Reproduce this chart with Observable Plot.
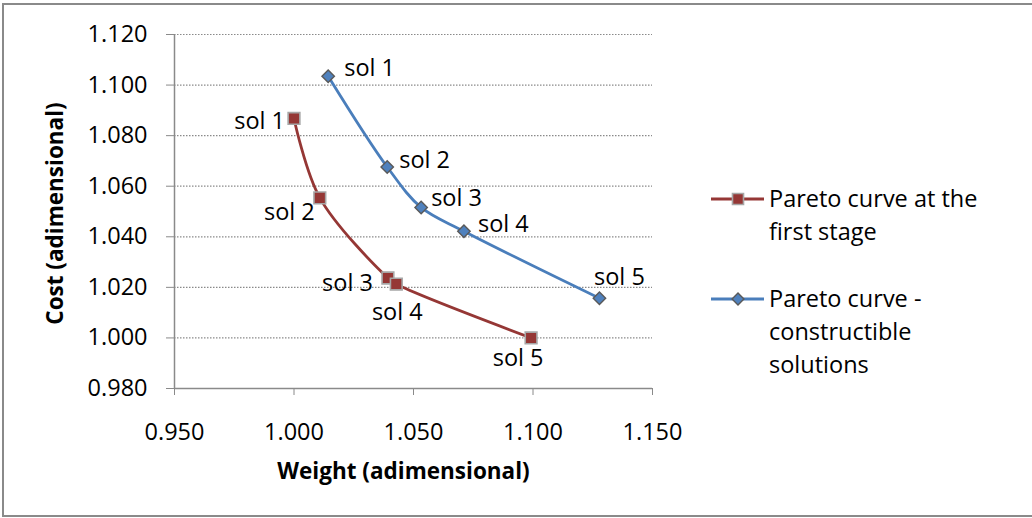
<!DOCTYPE html>
<html><head><meta charset="utf-8">
<script src="https://cdn.jsdelivr.net/npm/d3@7"></script>
<script src="https://cdn.jsdelivr.net/npm/@observablehq/plot@0.6"></script>
<style>
html,body{margin:0;padding:0;background:#fff;overflow:hidden}
#wrap{position:relative;width:1032px;height:518px;font-family:"Open Sans",sans-serif;overflow:hidden}
#wrap svg{position:absolute;left:0;top:0}
#frame{position:absolute;left:2px;top:3px;width:1040px;height:514px;border:2px solid #8a8a8a;box-sizing:border-box;pointer-events:none}
</style></head><body><div id="wrap"><div id="frame"></div></div>
<script>
// ---- data ----
const solutions = ["sol 1", "sol 2", "sol 3", "sol 4", "sol 5"];
const firstStageWeight = [1.0000, 1.0108, 1.0393, 1.0428, 1.0992];
const firstStageCost   = [1.0868, 1.0554, 1.0237, 1.0213, 1.0000];
const constructibleWeight = [1.0143, 1.0390, 1.0532, 1.0711, 1.1278];
const constructibleCost   = [1.1035, 1.0676, 1.0516, 1.0422, 1.0157];
const seriesNames = [["Pareto curve at the", "first stage"], ["Pareto curve -", "constructible", "solutions"]];
const xTicks = [0.95, 1.00, 1.05, 1.10, 1.15];
const yTicks = [0.98, 1.00, 1.02, 1.04, 1.06, 1.08, 1.10, 1.12];
const xTitle = "Weight (adimensional)";
const yTitle = "Cost (adimensional)";

// ---- styles ----
const RED = "#953735", BLUE = "#4a7ebb", BLUEFILL = "#4f81bd", GRID = "#8a8a8a";
const FONT = "'Open Sans', sans-serif", FS = 23.5, TFS = 22.5;

const red = solutions.map((s, i) => ({sol: s, w: firstStageWeight[i], c: firstStageCost[i]}));
const blue = solutions.map((s, i) => ({sol: s, w: constructibleWeight[i], c: constructibleCost[i]}));

const redLabelPos = [
  {dx: -9, dy: 3, anchor: "end"},
  {dx: -5, dy: 15, anchor: "end"},
  {dx: -15, dy: 5, anchor: "end"},
  {dx: 1, dy: 28, anchor: "middle"},
  {dx: -13, dy: 21, anchor: "middle"}
];
const blueLabelPos = [
  {dx: 16, dy: -8, anchor: "start"},
  {dx: 12, dy: -7, anchor: "start"},
  {dx: 10, dy: -9, anchor: "start"},
  {dx: 14, dy: -7, anchor: "start"},
  {dx: 20, dy: -21, anchor: "middle"}
];
const labelMarks = (data, pos) => pos.map((p, i) => Plot.text([data[i]], {
  x: "w", y: "c", text: "sol", dx: p.dx, dy: p.dy, textAnchor: p.anchor,
  fill: "#000", fontSize: FS
}));

const chart = Plot.plot({
  width: 1032, height: 518,
  marginLeft: 174, marginRight: 380, marginTop: 34, marginBottom: 130,
  style: {fontFamily: FONT, fontSize: FS + "px", background: "transparent", color: "#000"},
  x: {domain: [0.95, 1.15]},
  y: {domain: [0.98, 1.12]},
  marks: [
    Plot.ruleY(yTicks.filter(v => v > 0.98), {stroke: GRID, strokeDasharray: "1.5,1.5", strokeWidth: 1.2}),
    Plot.ruleX([0.95], {stroke: GRID, strokeWidth: 1.5}),
    Plot.ruleY([0.98], {stroke: GRID, strokeWidth: 1.5}),
    Plot.axisY({ticks: yTicks, tickFormat: d3.format(".3f"), tickSize: 8, tickPadding: 19,
      stroke: GRID, fill: "#000", fontSize: FS, label: null}),
    Plot.axisX({ticks: xTicks, tickFormat: d3.format(".3f"), tickSize: 7, tickPadding: 28,
      stroke: GRID, fill: "#000", fontSize: FS, label: null}),
    Plot.line(red, {x: "w", y: "c", stroke: RED, strokeWidth: 2.8, curve: "catmull-rom"}),
    Plot.line(blue, {x: "w", y: "c", stroke: BLUE, strokeWidth: 2.8, curve: "catmull-rom"}),
    Plot.dot(red, {x: "w", y: "c", symbol: "square", r: 6.6, fill: RED, stroke: "#a6a6a6", strokeWidth: 1.6}),
    Plot.dot(blue, {x: "w", y: "c", symbol: "diamond2", r: 5.6, fill: BLUEFILL, stroke: "#595959", strokeWidth: 1.4}),
    ...labelMarks(red, redLabelPos),
    ...labelMarks(blue, blueLabelPos),
    Plot.text([yTitle], {frameAnchor: "left", textAnchor: "middle", rotate: -90, dx: -119, dy: 2, fontWeight: "bold", fontSize: TFS, fill: "#000"}),
    Plot.text([xTitle], {frameAnchor: "bottom", dx: -10, dy: 90, fontWeight: "bold", fontSize: TFS, fill: "#000"})
  ]
});
const wrap = document.getElementById("wrap");
wrap.insertBefore(chart, wrap.firstChild);

// ---- legend ----
const leg = d3.select(wrap).append("svg").attr("width", 1032).attr("height", 518)
  .style("font-family", FONT).style("font-size", FS + "px");
const entries = [
  {names: seriesNames[0], y: 199, stroke: RED, sym: d3.symbolSquare, size: 11 * 11, fill: RED, ms: "#a6a6a6", msw: 1.6},
  {names: seriesNames[1], y: 299, stroke: BLUE, sym: d3.symbolDiamond2, size: 9.5 * 9.5, fill: BLUEFILL, ms: "#595959", msw: 1.4}
];
entries.forEach(e => {
  leg.append("line").attr("x1", 711).attr("x2", 764).attr("y1", e.y).attr("y2", e.y)
    .attr("stroke", e.stroke).attr("stroke-width", 2.8);
  leg.append("path").attr("d", d3.symbol(e.sym, e.size)()).attr("transform", `translate(738,${e.y})`)
    .attr("fill", e.fill).attr("stroke", e.ms).attr("stroke-width", e.msw);
  e.names.forEach((t, j) => {
    leg.append("text").attr("x", 769).attr("y", e.y + j * 32.7).attr("dy", "0.35em").text(t);
  });
});
</script></body></html>
